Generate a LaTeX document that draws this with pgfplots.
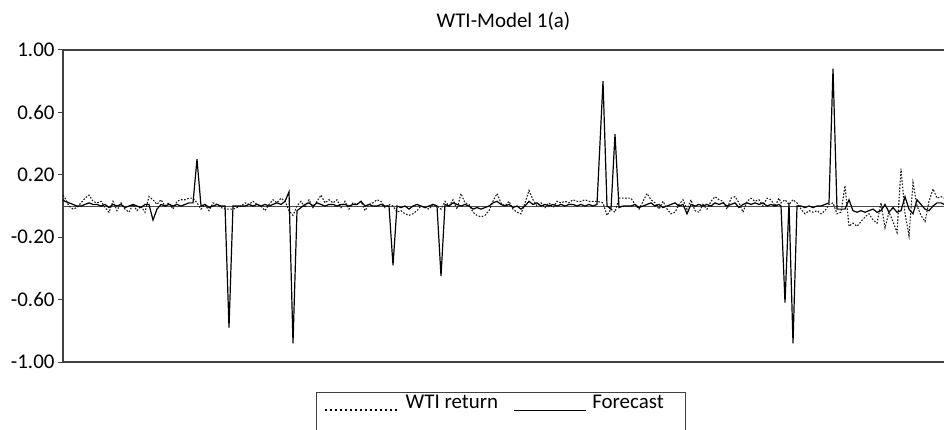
\documentclass[border=0pt]{standalone}
\usepackage{fontspec}
\setmainfont{Carlito}
\usepackage{pgfplots}
\usepackage{pgfplotstable}
\pgfplotsset{compat=1.18}

% x is the horizontal position of each observation, y the returns
\pgfplotstableread{
x wti fc
63 0.07 0.04
65 0.05 0.03
69 0.00 0.02
73 -0.02 0.01
77 -0.01 0.00
81 0.02 0.00
85 0.05 0.01
89 0.07 0.02
93 0.03 0.01
97 0.02 0.01
101 0.03 0.00
105 -0.01 0.01
109 -0.04 -0.01
113 0.03 0.01
117 -0.03 0.00
121 0.02 0.01
125 -0.02 -0.01
129 -0.04 0.00
133 0.01 0.01
137 -0.03 0.00
141 0.00 -0.01
145 -0.04 0.01
149 0.06 0.01
153 0.04 -0.09
157 0.01 -0.02
161 0.04 0.01
165 0.00 0.00
169 0.02 0.01
173 -0.02 0.00
177 0.03 0.01
181 0.04 0.00
185 0.04 0.01
189 0.05 0.02
193 0.05 0.02
197 0.02 0.30
201 -0.02 0.00
205 0.01 0.01
209 -0.03 -0.01
213 0.02 0.00
217 0.01 0.01
221 -0.01 0.00
225 -0.02 0.00
229 -0.02 -0.78
233 -0.02 0.00
237 -0.01 0.00
241 0.00 0.00
245 0.02 0.00
249 0.01 0.01
253 0.03 0.00
257 0.01 0.01
261 0.00 0.00
265 -0.03 0.01
269 0.01 0.00
273 0.04 0.01
277 0.02 0.02
281 0.05 0.01
285 0.03 0.03
289 -0.03 0.09
293 -0.06 -0.88
297 0.00 -0.03
301 0.03 -0.01
305 -0.01 0.01
309 0.04 0.02
313 -0.01 0.00
317 0.03 0.02
321 0.07 0.01
325 0.02 0.00
329 0.04 0.01
333 0.02 0.01
337 0.04 0.00
341 -0.01 0.01
345 0.03 0.01
349 -0.02 0.00
353 0.02 0.01
357 0.01 0.01
361 0.03 0.03
365 -0.03 0.00
369 0.01 0.01
373 0.02 0.00
377 0.04 0.00
381 0.03 0.01
385 -0.01 0.00
389 0.01 0.00
393 0.00 -0.38
397 -0.04 0.00
401 -0.03 -0.01
405 -0.05 0.00
409 -0.06 -0.02
413 -0.05 0.00
417 -0.03 0.01
421 0.00 0.00
425 -0.01 -0.01
429 -0.02 0.00
433 0.01 0.01
437 0.00 0.00
441 -0.02 -0.45
445 0.03 0.01
449 0.00 0.00
453 0.04 0.02
457 -0.02 0.01
461 0.08 0.00
465 0.02 0.01
469 0.01 0.00
473 -0.04 -0.02
477 -0.06 -0.01
481 -0.07 -0.02
485 -0.06 -0.01
489 -0.03 0.00
493 0.03 0.02
497 0.08 0.03
501 0.02 0.01
505 0.00 0.00
509 0.03 0.01
513 -0.02 -0.01
517 -0.04 0.00
521 -0.05 -0.02
525 0.02 0.00
529 0.10 0.03
533 0.04 0.01
537 0.00 0.02
541 0.02 0.00
545 -0.01 0.01
549 0.02 0.00
553 -0.01 0.01
557 0.03 0.00
561 0.02 0.01
565 0.03 0.00
569 0.02 0.01
573 0.04 0.01
577 0.03 0.00
581 0.03 0.01
585 0.04 0.00
589 0.03 0.01
593 0.03 0.00
597 0.03 0.01
603 0.02 0.80
607 -0.06 0.00
611 -0.02 -0.02
615 -0.04 0.46
619 0.05 -0.01
623 0.05 0.00
627 0.05 0.00
631 0.05 0.00
635 0.01 0.01
639 -0.02 -0.01
643 0.03 0.00
647 0.08 0.01
651 0.04 0.02
655 0.02 0.00
659 -0.02 0.01
663 0.03 -0.01
667 -0.02 0.00
671 -0.05 0.01
675 -0.04 0.02
679 0.01 0.00
683 0.04 0.01
687 -0.02 -0.05
691 0.04 0.01
695 -0.03 0.00
699 -0.04 0.01
703 0.01 0.00
707 -0.02 0.01
711 0.03 0.00
715 0.06 0.02
719 0.04 0.01
723 0.03 0.02
727 -0.02 0.00
731 0.05 0.01
735 0.06 0.02
739 0.02 -0.01
743 -0.04 0.01
747 0.03 0.02
751 0.05 0.01
755 0.03 0.02
759 0.04 0.01
763 0.00 0.02
767 0.05 0.00
771 0.04 0.01
775 0.00 0.00
779 0.05 0.01
781 0.02 0.00
785 0.04 -0.62
789 0.01 0.02
793 0.04 -0.88
797 0.02 0.00
801 -0.02 0.00
805 -0.05 -0.01
809 -0.03 0.00
813 -0.04 -0.01
817 -0.03 0.00
821 -0.05 0.00
825 -0.03 0.01
829 0.01 0.02
833 0.02 0.88
837 -0.05 -0.02
841 -0.04 -0.02
845 0.13 -0.02
849 -0.13 0.04
853 -0.11 -0.03
857 -0.13 -0.04
861 -0.10 -0.03
865 -0.07 -0.04
869 -0.05 -0.03
873 -0.09 -0.02
877 -0.11 -0.04
881 0.02 -0.03
885 -0.14 0.01
889 -0.04 -0.04
893 -0.10 -0.01
897 -0.17 -0.04
901 0.24 -0.03
905 -0.05 0.06
909 -0.19 -0.02
913 0.15 -0.05
917 0.00 0.04
921 -0.06 0.01
925 -0.10 -0.02
929 0.03 -0.03
933 0.11 0.00
937 0.05 0.02
941 0.06 0.02
944 0.05 0.01
}\wtidata

\begin{document}
\begin{tikzpicture}
  \useasboundingbox (0,0) rectangle (944bp,430bp);
  \begin{axis}[
    at={(63bp,68bp)}, anchor=south west,
    scale only axis,
    width=881bp, height=312bp,
    xmin=63, xmax=944,
    ymin=-1, ymax=1,
    axis x line*=box,
    axis y line*=left,
    axis line style={black!75, line width=1.1bp},
    xtick=\empty,
    ytick={-1,-0.6,-0.2,0.2,0.6,1},
    yticklabels={-1.00,-0.60,-0.20,0.20,0.60,1.00},
    tick align=outside,
    major tick length=5bp,
    tick style={black!75, line width=1bp},
    tick label style={font=\fontsize{21}{25}\selectfont},
    clip=false,
    legend columns=2,
    legend style={
      at={(0.2872,-0.0962)}, anchor=north west,
      draw=black!75, line width=1bp,
      inner xsep=7bp, inner ysep=2bp,
      font=\fontsize{21}{25}\selectfont,
      nodes={inner xsep=6bp, inner ysep=1bp, text depth=30bp},
      /tikz/every even column/.append style={column sep=9bp}},
  ]
    % zero reference line
    \addplot[black!70, line width=0.9bp, forget plot]
      coordinates {(63,0) (944,0)};
    \addplot[black!90, line width=1.1bp, dash pattern=on 1.6bp off 1.6bp,
      legend image code/.code={
        \draw[black, line width=2.2bp, dash pattern=on 2bp off 3bp]
          (0bp,7bp) -- (74bp,7bp);}]
      table[x=x, y=wti] {\wtidata};
    \addlegendentry{WTI return}
    \addplot[black, line width=1.2bp,
      legend image code/.code={
        \draw[black, line width=1.2bp] (0bp,7bp) -- (72bp,7bp);}]
      table[x=x, y=fc] {\wtidata};
    \addlegendentry{Forecast\kern9bp}
    \node[anchor=base, font=\fontsize{21}{25}\selectfont, yshift=22bp]
      at (rel axis cs:0.5,1) {WTI-Model 1(a)};
  \end{axis}
\end{tikzpicture}
\end{document}
